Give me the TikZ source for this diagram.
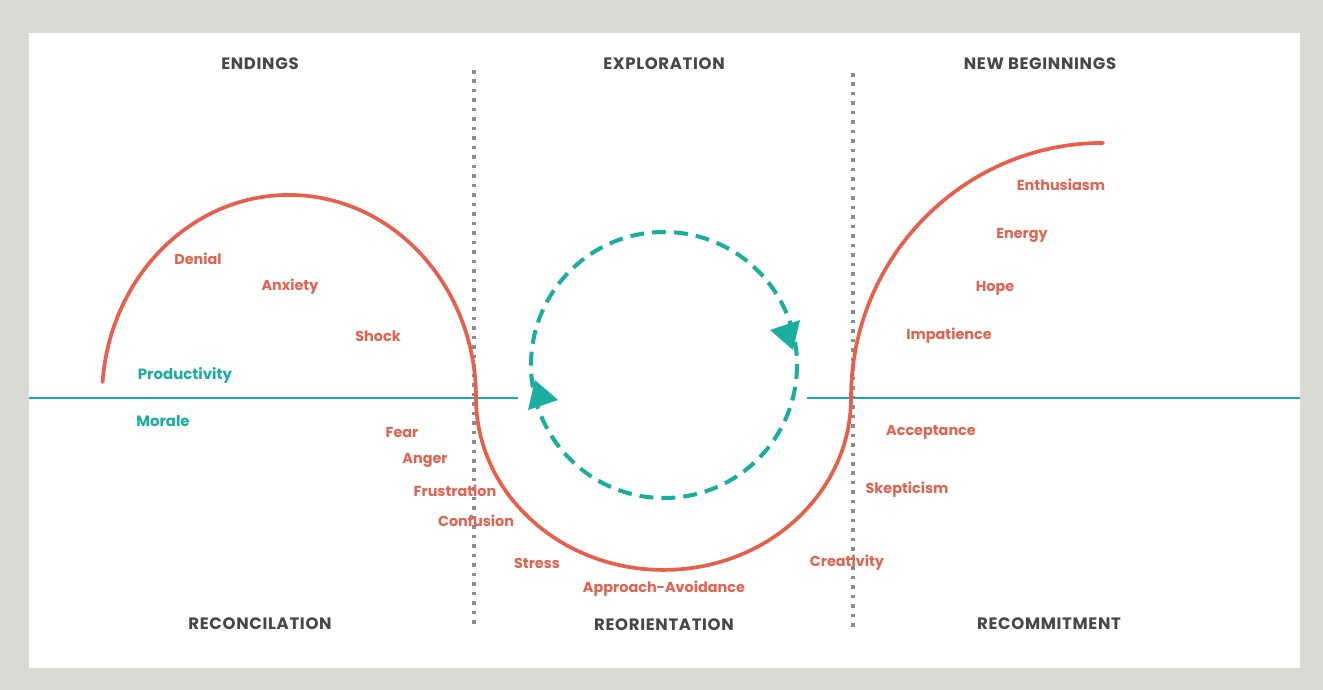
\documentclass[tikz,border=0pt]{standalone}
\usepackage{fontspec}
\setmainfont{Poppins}
\newfontfamily\headfont[LetterSpace=4]{Poppins}
\begin{document}
\definecolor{framegray}{HTML}{D9D9D5}
\definecolor{curvered}{HTML}{E8604C}
\definecolor{labelred}{HTML}{E2634F}
\definecolor{tealc}{HTML}{1AAE9F}
\definecolor{headgray}{HTML}{474747}
\definecolor{dotgray}{HTML}{8C8C8C}
\begin{tikzpicture}[x=0.02cm,y=-0.02cm,
  phase/.style={font=\headfont\fontsize{9.4}{11}\selectfont\bfseries, text=headgray},
  feel/.style={font=\fontsize{8.2}{9.5}\selectfont\bfseries, text=labelred},
  metric/.style={font=\fontsize{8.5}{9.5}\selectfont\bfseries, text=tealc},
  divider/.style={draw=dotgray, line width=1.8pt, dash pattern=on 2pt off 3.4pt},
  baseline axis/.style={draw=tealc, line width=1.7pt},
  journey/.style={draw=curvered, line width=2.1pt, line cap=round},
  cycle ring/.style={draw=tealc, line width=2.3pt, dash pattern=on 7.9pt off 4.6pt},
  ring tip/.style={fill=tealc}]
% frame and white panel
\fill[framegray] (0,0) rectangle (1323,690);
\fill[white] (29,33) rectangle (1300,668);
\useasboundingbox (0,0) rectangle (1323,690);

% phase dividers
\coordinate (d1a) at (474,70);  \coordinate (d1b) at (474,626);
\coordinate (d2a) at (853,73);  \coordinate (d2b) at (853,628);
\draw[divider] (d1a) -- (d1b);
\draw[divider] (d2a) -- (d2b);

% productivity / morale baseline
\coordinate (b0) at (29,398);   \coordinate (b1) at (518,398);
\coordinate (b2) at (807,398);  \coordinate (b3) at (1300,398);
\draw[baseline axis] (b0) -- (b1);
\draw[baseline axis] (b2) -- (b3);

% exploration cycle
\coordinate (ring) at (664,365);
\draw[cycle ring] (ring) circle[radius=133];
\fill[ring tip] (535,380) -- (558,400) -- (528,410) -- cycle;
\fill[ring tip] (793,350) -- (770,330) -- (800,320) -- cycle;

% transition curve: endings, neutral zone, new beginnings
\draw[journey] (102.6,382)
  arc[start angle=184.5, end angle=360, x radius=187, y radius=203]
  arc[start angle=180, end angle=0, x radius=187.5, y radius=172]
  arc[start angle=180, end angle=270, x radius=252, y radius=255];

% phase headings
\node[phase] (h1) at (260,64) {ENDINGS};
\node[phase] (h2) at (664,64) {EXPLORATION};
\node[phase] (h3) at (1040,64) {NEW BEGINNINGS};
\node[phase] (f1) at (260,624) {RECONCILATION};
\node[phase] (f2) at (664,625) {REORIENTATION};
\node[phase] (f3) at (1049,624) {RECOMMITMENT};

% metrics
\node[metric] (prod) at (185,375) {Productivity};
\node[metric] (mor) at (163,421) {Morale};

% feelings along the curve
\node[feel] (e1) at (198,259) {Denial};
\node[feel] (e2) at (290,287) {Anxiety};
\node[feel] (e3) at (378,336) {Shock};
\node[feel] (e4) at (402,432) {Fear};
\node[feel] (e5) at (425,460) {Anger};
\node[feel] (e6) at (455,491) {Frustration};
\node[feel] (e7) at (476,521) {Confusion};
\node[feel] (x1) at (537,563) {Stress};
\node[feel] (x2) at (664,589) {Approach-Avoidance};
\node[feel] (x3) at (847,563) {Creativity};
\node[feel] (n1) at (907,490) {Skepticism};
\node[feel] (n2) at (931,432) {Acceptance};
\node[feel] (n3) at (949,336) {Impatience};
\node[feel] (n4) at (995,288) {Hope};
\node[feel] (n5) at (1022,235) {Energy};
\node[feel] (n6) at (1061,185) {Enthusiasm};
\end{tikzpicture}
\end{document}
